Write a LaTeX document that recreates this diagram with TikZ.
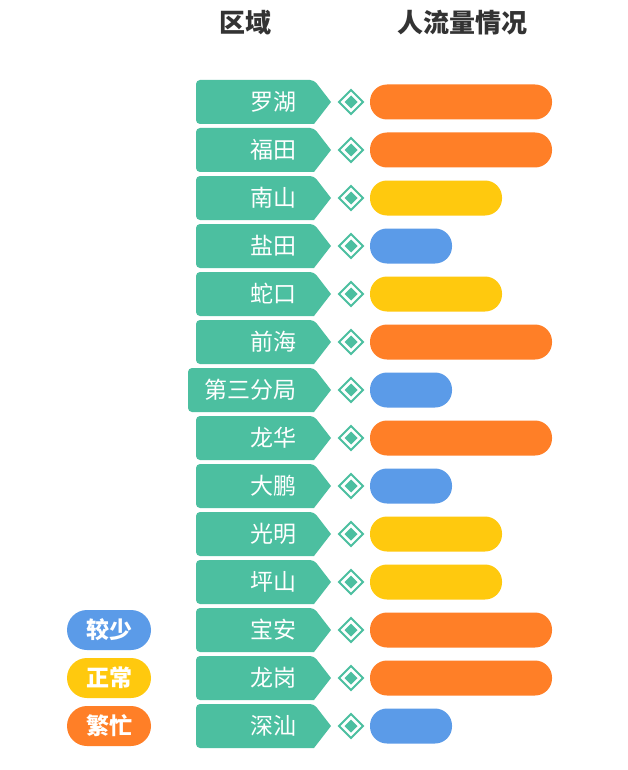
\documentclass[tikz,border=0pt]{standalone}
\usepackage{fontspec}
\newfontfamily\cjk{Noto Sans CJK SC}
\definecolor{c4cbfa0}{RGB}{76,191,160}
\definecolor{cff7f27}{RGB}{255,127,39}
\definecolor{cffc90e}{RGB}{255,201,14}
\definecolor{c5b9be8}{RGB}{91,155,232}
\definecolor{c333333}{RGB}{51,51,51}
\tikzset{
  areatext/.style={text=white,font=\cjk\fontsize{23}{23}\selectfont,anchor=east,inner sep=0pt},
  headtext/.style={text=c333333,font=\cjk\bfseries\fontsize{26}{26}\selectfont,inner sep=0pt},
  legendpill/.style={text=white,font=\cjk\bfseries\fontsize{23}{23}\selectfont,rounded corners=20pt,
    minimum width=84pt,minimum height=40pt,inner sep=0pt}
}
\begin{document}
\begin{tikzpicture}[y=-1pt, x=1pt, inner sep=0pt, outer sep=0pt]
  \useasboundingbox[fill=white] (0,0) rectangle (627,770);
  \node[headtext] (head1) at (245,23) {区域};
  \node[headtext] (head2) at (462,23) {人流量情况};
  % rows: name / left edge / bar end / colour
  \foreach \name/\lx/\bx/\col [count=\i] in {罗湖/196/552/cff7f27,福田/196/552/cff7f27,
      南山/196/502/cffc90e,盐田/196/452/c5b9be8,蛇口/196/502/cffc90e,前海/196/552/cff7f27,
      第三分局/188/452/c5b9be8,龙华/196/552/cff7f27,大鹏/196/452/c5b9be8,光明/196/502/cffc90e,
      坪山/196/502/cffc90e,宝安/196/552/cff7f27,龙岗/196/552/cff7f27,深汕/196/452/c5b9be8}{
    \pgfmathsetmacro{\yc}{102+(\i-1)*48}
    \path[fill=c4cbfa0,rounded corners=4pt] (\lx,\yc-22) -- (314,\yc-22)
      [sharp corners] -- (331,\yc) -- (314,\yc+22) [rounded corners=4pt] -- (\lx,\yc+22) -- cycle;
    \node[areatext] (area\i) at (296,\yc) {\name};
    \path[draw=c4cbfa0,line width=2pt,fill=white] (351,\yc-12) -- (363,\yc) -- (351,\yc+12) -- (339,\yc) -- cycle;
    \path[fill=c4cbfa0] (351,\yc-6.5) -- (357.5,\yc) -- (351,\yc+6.5) -- (344.5,\yc) -- cycle;
    \path[fill=\col,rounded corners=17pt] (370,\yc-17.5) rectangle (\bx,\yc+17.5);
  }
  \node[legendpill,fill=c5b9be8] (less) at (109,630) {较少};
  \node[legendpill,fill=cffc90e] (normal) at (109,678) {正常};
  \node[legendpill,fill=cff7f27] (busy) at (109,726) {繁忙};
\end{tikzpicture}
\end{document}
